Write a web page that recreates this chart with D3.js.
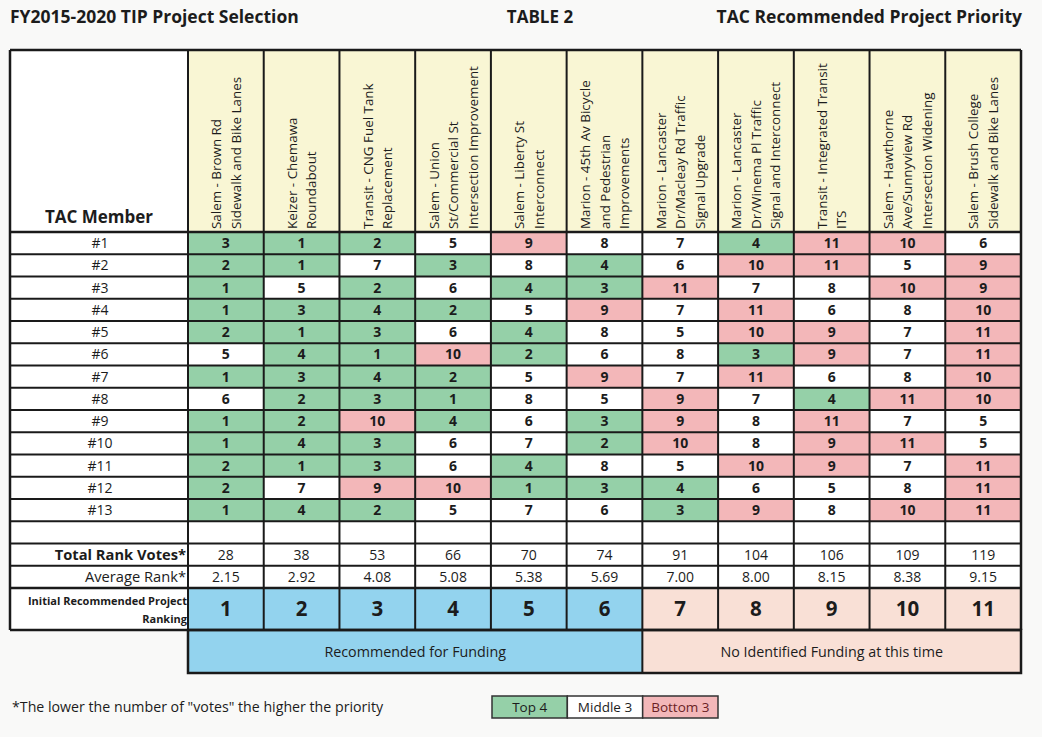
<!DOCTYPE html>
<html><head><meta charset="utf-8">
<script src="https://cdn.jsdelivr.net/npm/d3@7"></script>
<style>
html,body{margin:0;padding:0;background:#f9f9f8;}
svg{display:block;font-family:"Open Sans",Lato,sans-serif;}
</style></head>
<body>
<svg id="chart" width="1042" height="737"></svg>
<script>
const projects = [
  ["Salem - Brown Rd","Sidewalk and Bike Lanes"],
  ["Keizer - Chemawa","Roundabout"],
  ["Transit - CNG Fuel Tank","Replacement"],
  ["Salem - Union","St/Commercial St","Intersection Improvement"],
  ["Salem - Liberty St","Interconnect"],
  ["Marion - 45th Av Bicycle","and Pedestrian","Improvements"],
  ["Marion - Lancaster","Dr/Macleay Rd Traffic","Signal Upgrade"],
  ["Marion - Lancaster","Dr/Winema Pl Traffic","Signal and Interconnect"],
  ["Transit - Integrated Transit","ITS"],
  ["Salem - Hawthorne","Ave/Sunnyview Rd","Intersection Widening"],
  ["Salem - Brush College","Sidewalk and Bike Lanes"]
];
const members = ["#1","#2","#3","#4","#5","#6","#7","#8","#9","#10","#11","#12","#13"];
// ranks[memberIndex][projectIndex]
const ranks = [
  [3,1,2,5,9,8,7,4,11,10,6],
  [2,1,7,3,8,4,6,10,11,5,9],
  [1,5,2,6,4,3,11,7,8,10,9],
  [1,3,4,2,5,9,7,11,6,8,10],
  [2,1,3,6,4,8,5,10,9,7,11],
  [5,4,1,10,2,6,8,3,9,7,11],
  [1,3,4,2,5,9,7,11,6,8,10],
  [6,2,3,1,8,5,9,7,4,11,10],
  [1,2,10,4,6,3,9,8,11,7,5],
  [1,4,3,6,7,2,10,8,9,11,5],
  [2,1,3,6,4,8,5,10,9,7,11],
  [2,7,9,10,1,3,4,6,5,8,11],
  [1,4,2,5,7,6,3,9,8,10,11]
];
const totalVotes = [28,38,53,66,70,74,91,104,106,109,119];
const avgRank = ["2.15","2.92","4.08","5.08","5.38","5.69","7.00","8.00","8.15","8.38","9.15"];
const projectRanking = [1,2,3,4,5,6,7,8,9,10,11];
const fundingGroups = ["Recommended for Funding","No Identified Funding at this time"];
const fundedCount = 6;
const legendLabels = ["Top 4","Middle 3","Bottom 3"];

const C = {green:"#95d0a8", pink:"#f3b7b9", white:"#ffffff", header:"#f9f6d4",
           blue:"#93d3ee", peach:"#f9e0d6", line:"#1a1a1a", text:"#1c1c1c"};
function cellColor(v){ return v<=4 ? C.green : (v>=9 ? C.pink : C.white); }

const svg = d3.select("#chart");
const L = 10, R = 1021, labelRight = 188, tTop = 50, headBottom = 232;
const rowKeys = members.concat(["blank","total","avg"]);
const x = d3.scaleBand().domain(d3.range(projects.length)).range([labelRight, R]);
const y = d3.scaleBand().domain(rowKeys).range([headBottom, 588]);
const rankTop = 588, rankBottom = 630, bandBottom = 673;

// titles
svg.append("text").attr("x",10).attr("y",23).attr("font-size",17.5).attr("font-weight","bold").attr("fill",C.text).text("FY2015-2020 TIP Project Selection");
svg.append("text").attr("x",540).attr("y",23).attr("text-anchor","middle").attr("font-size",17).attr("font-weight","bold").attr("fill",C.text).text("TABLE 2");
svg.append("text").attr("x",1022).attr("y",23).attr("text-anchor","end").attr("font-size",17.5).attr("font-weight","bold").attr("fill",C.text).text("TAC Recommended Project Priority");

// header cells
const g = svg.append("g");
g.append("rect").attr("x",L).attr("y",tTop).attr("width",labelRight-L).attr("height",headBottom-tTop).attr("fill","#fff");
const hdr = g.selectAll("g.hdr").data(projects).join("g").attr("class","hdr");
hdr.append("rect").attr("x",(d,i)=>x(i)).attr("y",tTop).attr("width",x.bandwidth()).attr("height",headBottom-tTop).attr("fill",C.header);
hdr.each(function(lines,i){
  const lh = 19.5;
  const cx = x(i) + x.bandwidth()/2;
  const n = lines.length;
  lines.forEach((t,k)=>{
    const bx = cx + (k - (n-1)/2)*lh + 5;
    d3.select(this).append("text")
      .attr("transform",`translate(${bx},${headBottom-3}) rotate(-90)`)
      .attr("font-size",13.4).attr("fill",C.text).text(t);
  });
});
g.append("text").attr("x",99).attr("y",223).attr("text-anchor","middle").attr("font-size",17).attr("font-weight","bold").attr("fill",C.text).text("TAC Member");

// label column for rows
rowKeys.forEach(k=>{
  g.append("rect").attr("x",L).attr("y",y(k)).attr("width",labelRight-L).attr("height",y.bandwidth()).attr("fill","#fff");
});
g.selectAll("text.mem").data(members).join("text").attr("class","mem")
  .attr("x",100).attr("y",d=>y(d)+y.bandwidth()/2+5).attr("text-anchor","middle")
  .attr("font-size",14).attr("fill",C.text).text(d=>d);
g.append("text").attr("x",186).attr("y",y("total")+y.bandwidth()/2+5).attr("text-anchor","end").attr("font-size",14.7).attr("font-weight","bold").attr("fill",C.text).text("Total Rank Votes*");
g.append("text").attr("x",186).attr("y",y("avg")+y.bandwidth()/2+5).attr("text-anchor","end").attr("font-size",14.7).attr("fill",C.text).text("Average Rank*");
g.append("rect").attr("x",L).attr("y",rankTop).attr("width",labelRight-L).attr("height",rankBottom-rankTop).attr("fill","#fff");
g.append("text").attr("x",187).attr("y",605).attr("text-anchor","end").attr("font-size",11).attr("font-weight","bold").attr("fill",C.text).text("Initial Recommended Project");
g.append("text").attr("x",187).attr("y",623).attr("text-anchor","end").attr("font-size",11).attr("font-weight","bold").attr("fill",C.text).text("Ranking");

// data cells
const cells = [];
ranks.forEach((row,r)=>row.forEach((v,c)=>cells.push({r:members[r],c,v})));
g.selectAll("rect.cell").data(cells).join("rect").attr("class","cell")
  .attr("x",d=>x(d.c)).attr("y",d=>y(d.r)).attr("width",x.bandwidth()).attr("height",y.bandwidth())
  .attr("fill",d=>cellColor(d.v));
g.selectAll("text.cell").data(cells).join("text").attr("class","cell")
  .attr("x",d=>x(d.c)+x.bandwidth()/2).attr("y",d=>y(d.r)+y.bandwidth()/2+5)
  .attr("text-anchor","middle").attr("font-size",14).attr("font-weight","bold").attr("fill",C.text).text(d=>d.v);

// blank, totals, averages
projects.forEach((p,i)=>{
  ["blank","total","avg"].forEach(k=>g.append("rect").attr("x",x(i)).attr("y",y(k)).attr("width",x.bandwidth()).attr("height",y.bandwidth()).attr("fill","#fff"));
});
g.selectAll("text.tot").data(totalVotes).join("text").attr("class","tot")
  .attr("x",(d,i)=>x(i)+x.bandwidth()/2).attr("y",y("total")+y.bandwidth()/2+5)
  .attr("text-anchor","middle").attr("font-size",14).attr("fill",C.text).text(d=>d);
g.selectAll("text.avg").data(avgRank).join("text").attr("class","avg")
  .attr("x",(d,i)=>x(i)+x.bandwidth()/2).attr("y",y("avg")+y.bandwidth()/2+5)
  .attr("text-anchor","middle").attr("font-size",14).attr("fill",C.text).text(d=>d);

// ranking row
g.selectAll("rect.rank").data(projectRanking).join("rect").attr("class","rank")
  .attr("x",(d,i)=>x(i)).attr("y",rankTop).attr("width",x.bandwidth()).attr("height",rankBottom-rankTop)
  .attr("fill",(d,i)=>i<fundedCount?C.blue:C.peach);
g.selectAll("text.rank").data(projectRanking).join("text").attr("class","rank")
  .attr("x",(d,i)=>x(i)+x.bandwidth()/2).attr("y",(rankTop+rankBottom)/2+7)
  .attr("text-anchor","middle").attr("font-size",20.5).attr("font-weight","bold").attr("fill",C.text).text(d=>d);

// funding band
const split = x(fundedCount);
g.append("rect").attr("x",labelRight).attr("y",rankBottom).attr("width",split-labelRight).attr("height",bandBottom-rankBottom).attr("fill",C.blue);
g.append("rect").attr("x",split).attr("y",rankBottom).attr("width",R-split).attr("height",bandBottom-rankBottom).attr("fill",C.peach);
g.append("text").attr("x",(labelRight+split)/2).attr("y",(rankBottom+bandBottom)/2+5).attr("text-anchor","middle").attr("font-size",14.3).attr("fill",C.text).text(fundingGroups[0]);
g.append("text").attr("x",(split+R)/2).attr("y",(rankBottom+bandBottom)/2+5).attr("text-anchor","middle").attr("font-size",14.3).attr("fill",C.text).text(fundingGroups[1]);

// grid lines
const lines = svg.append("g").attr("stroke",C.line).attr("fill","none");
[L, labelRight].concat(d3.range(1,projects.length).map(i=>x(i))).concat([R]).forEach((vx,idx)=>{
  lines.append("line").attr("x1",vx).attr("x2",vx).attr("y1",tTop).attr("y2",rankBottom).attr("stroke-width",idx===0||vx===R?2.5:2);
});
[tTop, headBottom].concat(rowKeys.slice(1).map(k=>y(k))).concat([rankTop, rankBottom]).forEach(hy=>{
  lines.append("line").attr("x1",L).attr("x2",R).attr("y1",hy).attr("y2",hy).attr("stroke-width",(hy===tTop||hy===headBottom||hy===rankTop||hy===rankBottom)?2.5:1.8);
});
lines.append("rect").attr("x",labelRight).attr("y",rankBottom).attr("width",R-labelRight).attr("height",bandBottom-rankBottom).attr("stroke-width",2.5);
lines.append("line").attr("x1",split).attr("x2",split).attr("y1",rankBottom).attr("y2",bandBottom).attr("stroke-width",2);

// footnote
svg.append("text").attr("x",12).attr("y",712).attr("font-size",14.2).attr("fill",C.text).text('*The lower the number of "votes" the higher the priority');

// legend
const legX = d3.scaleBand().domain(legendLabels).range([492,718]);
const legColors = [C.green, C.white, C.pink];
const lg = svg.append("g");
lg.selectAll("rect").data(legendLabels).join("rect")
  .attr("x",d=>legX(d)).attr("y",696).attr("width",legX.bandwidth()).attr("height",22)
  .attr("fill",(d,i)=>legColors[i]).attr("stroke","#333").attr("stroke-width",1.5);
lg.selectAll("text").data(legendLabels).join("text")
  .attr("x",d=>legX(d)+legX.bandwidth()/2).attr("y",712).attr("text-anchor","middle")
  .attr("font-size",13.5).attr("fill",(d,i)=>i===2?"#6a1f25":C.text).text(d=>d);
</script>
</body></html>
